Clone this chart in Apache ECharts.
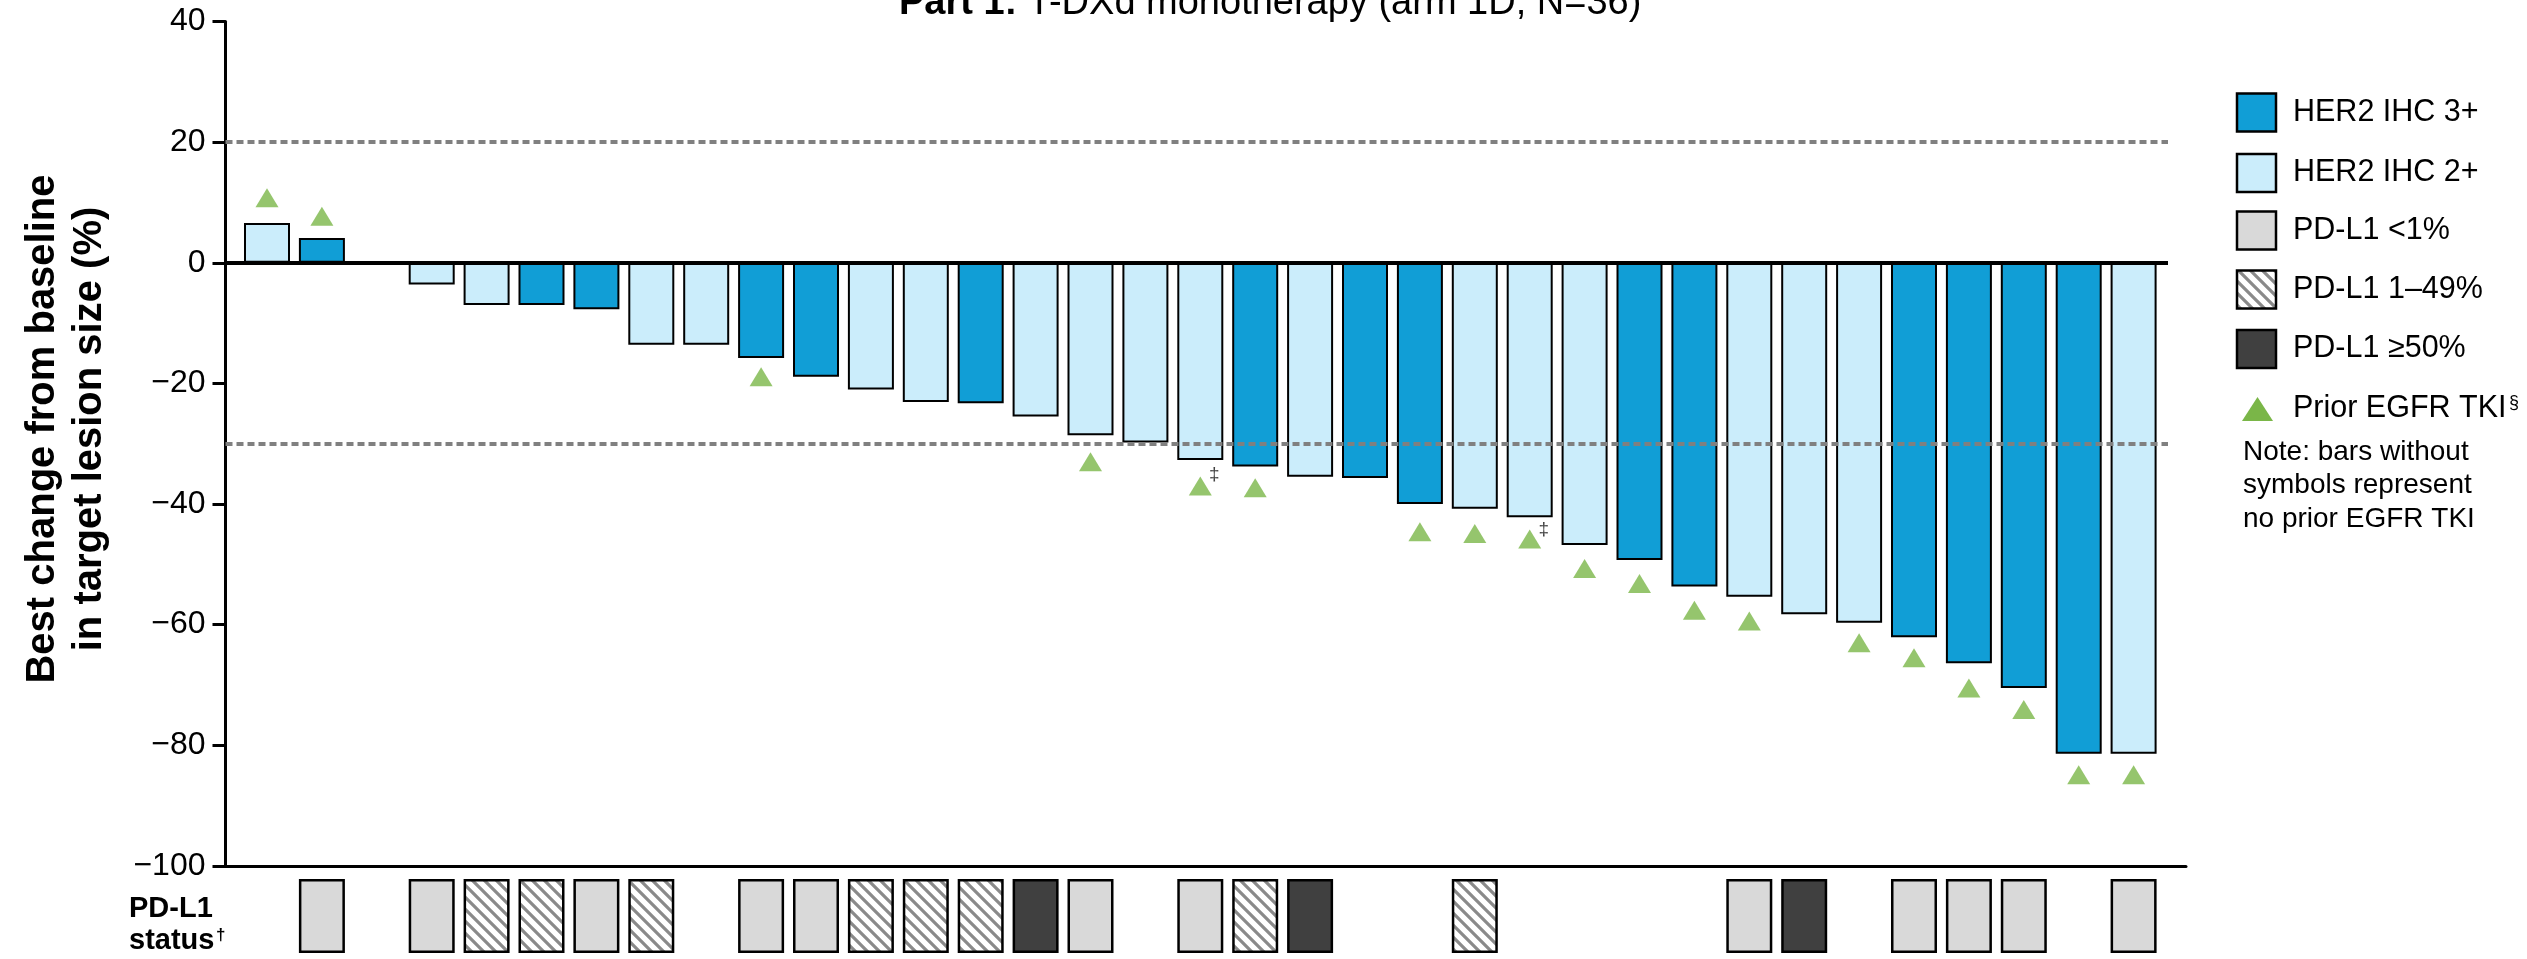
<!DOCTYPE html>
<html>
<head>
<meta charset="utf-8">
<title>Best change from baseline in target lesion size</title>
<script src="https://cdn.jsdelivr.net/npm/echarts@6.0.0/dist/echarts.min.js"></script>
<style>
  html, body { margin: 0; padding: 0; background: #fff; }
  #chart { width: 2527px; height: 959px; }
</style>
</head>
<body>
<div id="chart"></div>
<script>
// ---- data: one slot per patient, ordered by best change ----
const bestChange = [6.6, 4.1, null, -3.6, -7.0, -7.0, -7.7, -13.6, -13.6, -15.8, -18.9,
  -21.0, -23.1, -23.3, -25.5, -28.6, -29.8, -32.7, -33.8, -35.5, -35.7, -40.0, -40.8,
  -42.2, -46.8, -49.3, -53.7, -55.4, -58.3, -59.7, -62.1, -66.4, -70.5, -81.4, -81.4];

const her2Status = ['2+', '3+', null, '2+', '2+', '3+', '3+', '2+', '2+', '3+', '3+',
  '2+', '2+', '3+', '2+', '2+', '2+', '2+', '3+', '2+', '3+', '3+', '2+',
  '2+', '2+', '3+', '3+', '2+', '2+', '2+', '3+', '3+', '3+', '3+', '2+'];

const pdl1Status = [null, '<1', null, '<1', '1-49', '1-49', '<1', '1-49', null, '<1', '<1',
  '1-49', '1-49', '1-49', '>=50', '<1', null, '<1', '1-49', '>=50', null, null, '1-49',
  null, null, null, null, '<1', '>=50', null, '<1', '<1', '<1', null, '<1'];

// level (in %) at which the prior-EGFR-TKI triangle is placed; null = no prior EGFR TKI
const priorTkiMarker = [10.8, 7.7, null, null, null, null, null, null, null, -18.9, null,
  null, null, null, null, -33.0, null, -37.0, -37.3, null, null, -44.6, -44.9,
  -45.8, -50.7, -53.2, -57.6, -59.4, null, -63.0, -65.5, -70.5, -74.1, -84.9, -84.9];

// double-dagger footnote marks
const footnoteSlots = [17, 23];
const footnoteLevels = [-35.2, -44.2];

const yMin = -100, yMax = 40, yStep = 20;
const responseLines = [20, -30];

const legendItems = ['HER2 IHC 3+', 'HER2 IHC 2+', 'PD-L1 <1%', 'PD-L1 1\u201349%', 'PD-L1 \u226550%'];
const noteLines = ['Note: bars without', 'symbols represent', 'no prior EGFR TKI'];

// ---- styling / layout ----
const FONT = '"Liberation Sans", Arial, Helvetica, sans-serif';
const HER2_3 = '#119ed6';
const HER2_2 = '#cbedfb';
const PD_LOW = '#d9d9d9';
const PD_HIGH = '#404040';
const TKI_GREEN = '#7ab648';

const gridLeft = 225.5, gridRight = 2186, gridTop = 21.6, gridBottom = 865.8;
const firstCenter = 267, slotStep = 54.9;
const xMin = (gridLeft - firstCenter) / slotStep;
const xMax = (gridRight - firstCenter) / slotStep;
const lineEnd = (2168 - firstCenter) / slotStep;

function hatchCanvas() {
  const s = 12;
  const c = document.createElement('canvas');
  c.width = s; c.height = s;
  const g = c.getContext('2d');
  g.fillStyle = '#ffffff';
  g.fillRect(0, 0, s, s);
  g.strokeStyle = '#8a8a8a';
  g.lineWidth = 3.2;
  g.beginPath();
  g.moveTo(-2, -2); g.lineTo(s + 2, s + 2);
  g.moveTo(s - 2, -2); g.lineTo(s + 2, 2);
  g.moveTo(-2, s - 2); g.lineTo(2, s + 2);
  g.stroke();
  return c;
}
const HATCH = { image: hatchCanvas(), repeat: 'repeat' };
const pdFill = { '<1': PD_LOW, '1-49': HATCH, '>=50': PD_HIGH };
const legendFills = [HER2_3, HER2_2, PD_LOW, HATCH, PD_HIGH];

const barData = [];
bestChange.forEach((v, i) => {
  if (v === null) return;
  barData.push({ value: [i, v], itemStyle: { color: her2Status[i] === '3+' ? HER2_3 : HER2_2 } });
});

const pdData = [];
pdl1Status.forEach((s, i) => {
  if (!s) return;
  pdData.push({ value: [i, 1], itemStyle: { color: pdFill[s] } });
});

const tkiData = [];
priorTkiMarker.forEach((v, i) => { if (v !== null) tkiData.push([i, v]); });

const footData = footnoteSlots.map((s, k) => [s, footnoteLevels[k]]);

const refLineData = [
  [{ coord: [xMin, 0], lineStyle: { type: 'solid', width: 4, color: '#000' } }, { coord: [lineEnd, 0] }]
].concat(responseLines.map(v => [
  { coord: [xMin, v], lineStyle: { type: [7, 4], width: 4, color: '#808080' } },
  { coord: [lineEnd, v] }
]));

// ---- legend and annotations drawn as graphic elements ----
const graphics = [];
const legendCenters = [112.5, 173, 230.5, 289.5, 349];
legendItems.forEach((name, k) => {
  graphics.push({
    type: 'rect', shape: { x: 2237, y: legendCenters[k] - 19, width: 39, height: 38 },
    style: { fill: legendFills[k], stroke: '#000', lineWidth: 2.5 }
  });
  graphics.push({
    type: 'text', x: 2293, y: legendCenters[k],
    style: { text: name, fontFamily: FONT, fontSize: 30.5, fill: '#000', align: 'left', verticalAlign: 'middle' }
  });
});
graphics.push({
  type: 'polygon', shape: { points: [[2242, 421], [2273, 421], [2257.5, 397]] },
  style: { fill: TKI_GREEN }
});
graphics.push({
  type: 'text', x: 2293, y: 409,
  style: { text: 'Prior EGFR TKI', fontFamily: FONT, fontSize: 30.5, fill: '#000', align: 'left', verticalAlign: 'middle' }
});
graphics.push({
  type: 'text', x: 2509, y: 403,
  style: { text: '\u00a7', fontFamily: FONT, fontSize: 18, fill: '#000', align: 'left', verticalAlign: 'middle' }
});
noteLines.forEach((t, k) => {
  graphics.push({
    type: 'text', x: 2243, y: 452 + k * 33.5,
    style: { text: t, fontFamily: FONT, fontSize: 28, fill: '#000', align: 'left', verticalAlign: 'middle' }
  });
});
// title (top edge runs off the canvas)
graphics.push({
  type: 'text', x: 899, y: 4,
  style: {
    text: '{b|Part 1:}{n| T-DXd monotherapy (arm 1D; N=36)}',
    fill: '#000', align: 'left', verticalAlign: 'middle',
    rich: {
      b: { fontFamily: FONT, fontSize: 38, fontWeight: 'bold', fill: '#000' },
      n: { fontFamily: FONT, fontSize: 38, fontWeight: 'normal', fill: '#000' }
    }
  }
});
graphics.push({
  type: 'text', x: 1653, y: -2,
  style: { text: '*', fontFamily: FONT, fontSize: 20, fill: '#000', align: 'left', verticalAlign: 'middle' }
});
// y-axis title
graphics.push({
  type: 'text', x: 66, y: 429, rotation: Math.PI / 2,
  style: {
    text: 'Best change from baseline\nin target lesion size (%)',
    fontFamily: FONT, fontSize: 40, fontWeight: 'bold', lineHeight: 47,
    fill: '#000', align: 'center', verticalAlign: 'middle'
  }
});
// PD-L1 row label
graphics.push({
  type: 'text', x: 129, y: 909,
  style: { text: 'PD-L1', fontFamily: FONT, fontSize: 29, fontWeight: 'bold', fill: '#000', align: 'left', verticalAlign: 'middle' }
});
graphics.push({
  type: 'text', x: 129, y: 941,
  style: { text: 'status', fontFamily: FONT, fontSize: 29, fontWeight: 'bold', fill: '#000', align: 'left', verticalAlign: 'middle' }
});
graphics.push({
  type: 'text', x: 216, y: 935,
  style: { text: '\u2020', fontFamily: FONT, fontSize: 17, fontWeight: 'bold', fill: '#000', align: 'left', verticalAlign: 'middle' }
});

const chart = echarts.init(document.getElementById('chart'), null, { renderer: 'canvas' });
chart.setOption({
  animation: false,
  backgroundColor: '#ffffff',
  grid: [
    { left: gridLeft, top: gridTop, width: gridRight - gridLeft, height: gridBottom - gridTop },
    { left: gridLeft, top: 879, width: gridRight - gridLeft, height: 74 }
  ],
  xAxis: [
    {
      type: 'value', gridIndex: 0, min: xMin, max: xMax,
      axisLine: { show: true, onZero: false, lineStyle: { color: '#000', width: 3 } },
      axisTick: { show: false }, axisLabel: { show: false }, splitLine: { show: false }
    },
    {
      type: 'value', gridIndex: 1, min: xMin, max: xMax, show: false,
      splitLine: { show: false }
    }
  ],
  yAxis: [
    {
      type: 'value', gridIndex: 0, min: yMin, max: yMax, interval: yStep,
      axisLine: { show: true, onZero: false, lineStyle: { color: '#000', width: 3 } },
      axisTick: { show: true, length: 13, lineStyle: { color: '#000', width: 3 } },
      axisLabel: {
        margin: 20, fontSize: 32, fontFamily: FONT, color: '#000',
        formatter: v => String(v).replace('-', '\u2212')
      },
      splitLine: { show: false }
    },
    { type: 'value', gridIndex: 1, min: 0, max: 1, show: false, splitLine: { show: false } }
  ],
  series: [
    {
      name: 'Best change', type: 'bar', xAxisIndex: 0, yAxisIndex: 0,
      barWidth: 46, data: barData,
      itemStyle: { borderColor: '#000', borderWidth: 2 },
      markLine: { silent: true, symbol: ['none', 'none'], label: { show: false }, data: refLineData },
      z: 2
    },
    {
      name: 'Prior EGFR TKI', type: 'scatter', xAxisIndex: 0, yAxisIndex: 0,
      symbol: 'triangle', symbolSize: [23, 19], data: tkiData,
      itemStyle: { color: TKI_GREEN }, z: 4
    },
    {
      name: 'Footnote', type: 'scatter', xAxisIndex: 0, yAxisIndex: 0,
      symbol: 'circle', symbolSize: 0, data: footData,
      label: {
        show: true, position: 'inside', offset: [14, 0], formatter: '\u2021',
        fontSize: 19, fontFamily: FONT, color: '#111'
      }, z: 5
    },
    {
      name: 'PD-L1 status', type: 'bar', xAxisIndex: 1, yAxisIndex: 1,
      barWidth: 46, data: pdData,
      itemStyle: { borderColor: '#000', borderWidth: 2.5 }
    }
  ],
  graphic: graphics
});
</script>
</body>
</html>
